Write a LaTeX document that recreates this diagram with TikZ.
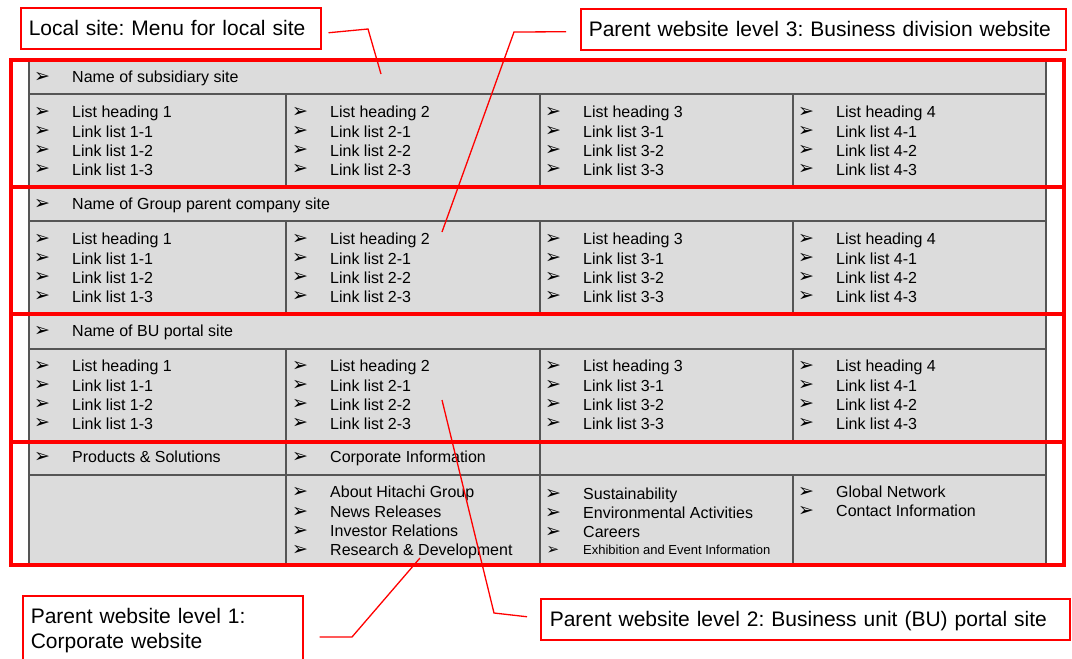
\documentclass[tikz,border=0pt]{standalone}
\usepackage{fontspec}
\setmainfont{Liberation Sans}
\newfontfamily\dejavu{DejaVu Sans}
\usetikzlibrary{calc}
\definecolor{cellgray}{HTML}{DCDCDC}
\definecolor{rulegray}{HTML}{555555}
\frenchspacing
\begin{document}
\begin{tikzpicture}[x=1pt,y=-1pt,
 txt/.style={anchor=base west,inner sep=0,font=\fontsize{16}{19}\selectfont},
 smalltxt/.style={anchor=base west,inner sep=0,font=\fontsize{13}{16}\selectfont},
 bul/.style={inner sep=0,font=\dejavu\fontsize{19}{20}\selectfont},
 smallbul/.style={inner sep=0,font=\dejavu\fontsize{15}{16}\selectfont},
 callout/.style={draw=red,line width=1.5pt,fill=white,anchor=north west,inner xsep=8pt,inner ysep=10pt,
   font=\fontsize{21}{25}\selectfont,text height=18pt,text depth=3pt,align=left},
 leader/.style={draw=red,line width=1.3pt},
 frame/.style={draw=red,line width=4pt},
 rule/.style={draw=rulegray,line width=1.2pt}]
\useasboundingbox (0,0) rectangle (1072,659);
% table background
\fill[cellgray] (29,60) rectangle (1046,566);
\draw[rule] (29,60) rectangle (1046,566);
\foreach \y in {94,187,221,314,349,442,475} \draw[rule] (29,\y) -- (1046,\y);
\foreach \a/\b in {94/187,221/314,349/442} \foreach \x in {286,540,793} \draw[rule] (\x,\a) -- (\x,\b);
\foreach \x in {286,540} \draw[rule] (\x,442) -- (\x,475);
\foreach \x in {286,540,793} \draw[rule] (\x,475) -- (\x,566);
% red frames
\foreach \a/\b in {60/187,187/314,314/442,442/565} \draw[frame] (11,\a) rectangle (1064,\b);
% section headers
\foreach \s/\hy/\name in {1/77/Name of subsidiary site,2/204/Name of Group parent company site,3/331/Name of BU portal site}{
  \node[bul] (h\s-b) at (42,\hy) {➢};
  \node[txt] (h\s) at (72,\hy+5.8) {\name};
}
% list blocks
\foreach \s/\y in {1/112,2/239,3/366}{
  \foreach \c/\bx in {1/42,2/300,3/553,4/806}{
    \node[bul] (s\s-c\c-r0-b) at (\bx,\y) {➢};
    \node[txt] (s\s-c\c-r0) at (\bx+30,\y+5.8) {List heading \c};
    \foreach \r in {1,2,3}{
      \node[bul] (s\s-c\c-r\r-b) at (\bx,\y+19.2*\r) {➢};
      \node[txt] (s\s-c\c-r\r) at (\bx+30,\y+19.2*\r+5.8) {Link list \c-\r};
    }
  }
}
% bottom section
\node[bul] (ps-b) at (42,457) {➢};
\node[txt] (ps) at (72,462.8) {Products \& Solutions};
\node[bul] (ci-b) at (300,457) {➢};
\node[txt] (ci) at (330,462.8) {Corporate Information};
\foreach \i/\y/\t in {1/492/About Hitachi Group,2/512/News Releases,3/531/Investor Relations,4/550/Research \& Development}{
  \node[bul] (b2-\i-b) at (300,\y) {➢};
  \node[txt] (b2-\i) at (330,\y+5.8) {\t};
}
\foreach \i/\y/\t in {1/494/Sustainability,2/513/Environmental Activities,3/532/Careers}{
  \node[bul] (b3-\i-b) at (553,\y) {➢};
  \node[txt] (b3-\i) at (583,\y+5.8) {\t};
}
\node[smallbul] (b3-4-b) at (553,550) {➢};
\node[smalltxt] (b3-4) at (583,554.7) {Exhibition and Event Information};
\foreach \i/\y/\t in {1/492/Global Network,2/511/Contact Information}{
  \node[bul] (b4-\i-b) at (806,\y) {➢};
  \node[txt] (b4-\i) at (836,\y+5.8) {\t};
}
% callouts
\node[callout,text width=284pt] (cb1) at (20,7) {Local site: Menu for local site};
\node[callout,text width=469pt] (cb2) at (580,8) {Parent website level 3: Business division website};
\node[callout,text width=511pt,inner xsep=9pt] (cb4) at (540,598) {Parent website level 2: Business unit (BU) portal site};
\node[draw=red,line width=1.5pt,fill=white,anchor=north west,inner xsep=8pt,inner ysep=13pt,
   font=\fontsize{21}{25}\selectfont,align=left,text width=264pt] (cb3) at (22,595) {Parent website level 1:\\Corporate website};
% leader coordinates
\coordinate (k1) at (368,29);
\coordinate (e1) at (381,74);
\coordinate (k2) at (514,32);
\coordinate (e2) at (442,232);
\coordinate (k4) at (494,613);
\coordinate (e4) at (442,400);
\coordinate (k3) at (352,637);
\coordinate (e3) at (420,558);
\draw[leader] ([shift={(7,4.5)}]cb1.east) -- (k1) -- (e1);
\draw[leader] ([shift={(-14,2.5)}]cb2.west) -- (k2) -- (e2);
\draw[leader] ([shift={(-13,-2.5)}]cb4.west) -- (k4) -- (e4);
\draw[leader] ([shift={(16,42)}]cb3.north east) -- (k3) -- (e3);
\end{tikzpicture}
\end{document}
